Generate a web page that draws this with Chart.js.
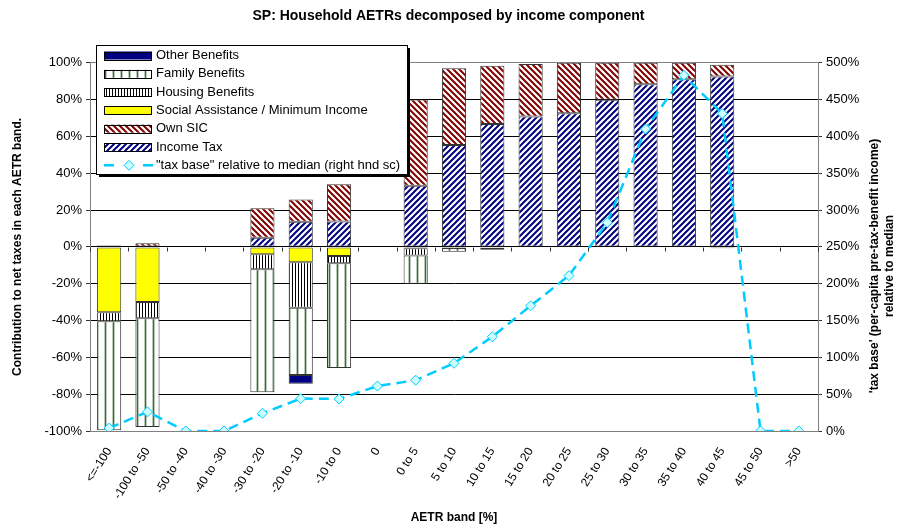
<!DOCTYPE html>
<html>
<head>
<meta charset="utf-8">
<script src="https://cdn.jsdelivr.net/npm/chart.js@4.4.1/dist/chart.umd.min.js"></script>
<style>
  body { margin: 0; background: #fff; }
</style>
</head>
<body>
<canvas id="chart" width="897" height="531"></canvas>
<script>
const categories = ['<=-100', '-100 to -50', '-50 to -40', '-40 to -30', '-30 to -20', '-20 to -10', '-10 to 0', '0',
    '0 to 5', '5 to 10', '10 to 15', '15 to 20', '20 to 25', '25 to 30', '30 to 35', '35 to 40', '40 to 45', '45 to 50', '>50'];

// contributions, % of net taxes in each band
const incomeTax = [null, null, null, null, 5, 13.6, 13.8, null, 33.2, 55.4, 66.8, 70.8, 72.6, 79.9, 88.4, 91.1, 92.6, null, null];
const ownSIC = [0.7, 2, null, null, 16, 12.1, 20.2, null, 46.8, 41.7, 31.6, 28.5, 27.4, 20.1, 11.6, 8.9, 6.3, null, null];
const socialAssistance = [-35.5, -29.9, null, null, -4, -8.3, -5, null, -0.7, null, null, null, null, null, null, null, null, null, null];
const housingBenefits = [-4.9, -8.9, null, null, -8.1, -24.7, -3.9, null, -4, -0.6, -0.4, null, null, null, null, null, null, null, null];
const familyBenefits = [-59.2, -59, null, null, -66.9, -36.6, -56.9, null, -15.3, -2, -1.2, null, null, null, null, null, -0.7, null, null];
const otherBenefits = [null, null, null, null, null, -4.7, null, null, null, null, null, null, null, null, null, null, null, null, null];

// "tax base" relative to median, % (right axis)
const taxBase = [4, 26, 0, 0, 24, 44, 43.5, 61, 69, 92, 128, 170, 211, 283, 410, 483, 431, 0, 0];

const leftTicks = [-100, -80, -60, -40, -20, 0, 20, 40, 60, 80, 100];
const rightTicks = [0, 50, 100, 150, 200, 250, 300, 350, 400, 450, 500];

const FONT = 'Arial, "Liberation Sans", sans-serif';

function diagonal(color, backslash) {
    const s = 6;
    const c = document.createElement('canvas');
    c.width = s; c.height = s;
    const g = c.getContext('2d');
    g.fillStyle = '#fff';
    g.fillRect(0, 0, s, s);
    g.strokeStyle = color;
    g.lineWidth = 2;
    g.beginPath();
    if (backslash) {
        g.moveTo(0, 0); g.lineTo(s, s);
        g.moveTo(-s / 2, s / 2); g.lineTo(s / 2, s * 1.5);
        g.moveTo(s / 2, -s / 2); g.lineTo(s * 1.5, s / 2);
    } else {
        g.moveTo(0, s); g.lineTo(s, 0);
        g.moveTo(-s / 2, s / 2); g.lineTo(s / 2, -s / 2);
        g.moveTo(s / 2, s * 1.5); g.lineTo(s * 1.5, s / 2);
    }
    g.stroke();
    return g.createPattern(c, 'repeat');
}

function vertical(w, lineColor, soft) {
    const c = document.createElement('canvas');
    c.width = w; c.height = 4;
    const g = c.getContext('2d');
    g.fillStyle = '#fff';
    g.fillRect(0, 0, w, 4);
    if (soft) {
        g.fillStyle = soft;
        g.fillRect(0, 0, 1, 4);
        g.fillRect(2, 0, 1, 4);
    }
    g.fillStyle = lineColor;
    g.fillRect(1, 0, 1, 4);
    return g.createPattern(c, 'repeat');
}

const ctx = document.getElementById('chart').getContext('2d');

const taxFill = diagonal('#000080', false);
const sicFill = diagonal('#800000', true);
const housingFill = vertical(3, '#000000', null);
const familyFill = vertical(8, '#3d6b3d', '#b9cab9');

const barCommon = {
    type: 'bar',
    yAxisID: 'y',
    borderColor: '#333333',
    borderWidth: 1,
    borderSkipped: false,
    stack: 's',
    order: 1,
    categoryPercentage: 1,
    barPercentage: 0.63
};

// legend drawn inside the plot like the original
const boxLegend = {
    id: 'boxLegend',
    afterDraw(chart) {
        const c = chart.ctx;
        const x = 96, y = 45, w = 311, h = 129;
        c.save();
        c.fillStyle = '#000';
        c.fillRect(x + 3, y + 3, w, h);
        c.fillStyle = '#fff';
        c.fillRect(x, y, w, h);
        c.strokeStyle = '#000';
        c.lineWidth = 1;
        c.strokeRect(x + 0.5, y + 0.5, w, h);
        const items = [
            ['Other Benefits', '#000080'],
            ['Family Benefits', familyFill],
            ['Housing Benefits', housingFill],
            ['Social Assistance / Minimum Income', '#ffff00'],
            ['Own SIC', sicFill],
            ['Income Tax', taxFill]
        ];
        c.font = '13px ' + FONT;
        c.textBaseline = 'middle';
        items.forEach((it, i) => {
            const cy = 55.5 + i * 18.3;
            c.fillStyle = it[1];
            c.fillRect(104, cy - 4, 48, 8);
            c.strokeStyle = '#000';
            c.strokeRect(104.5, Math.round(cy - 4) + 0.5, 47, 8);
            c.fillStyle = '#000';
            c.fillText(it[0], 156, cy);
        });
        const ly = 55.5 + 6 * 18.3;
        c.strokeStyle = '#00ccff';
        c.lineWidth = 2.5;
        c.beginPath();
        c.moveTo(104, ly); c.lineTo(114, ly);
        c.moveTo(143, ly); c.lineTo(153, ly);
        c.stroke();
        c.beginPath();
        c.moveTo(129, ly - 5); c.lineTo(134, ly); c.lineTo(129, ly + 5); c.lineTo(124, ly); c.closePath();
        c.fillStyle = '#ccffff';
        c.fill();
        c.lineWidth = 1;
        c.stroke();
        c.fillStyle = '#000';
        c.fillText('"tax base" relative to median (right hnd sc)', 156, ly);
        c.restore();
    }
};

// small category ticks on the zero line, and the right axis title (reads upward)
const extras = {
    id: 'extras',
    beforeDatasetsDraw(chart) {
        const c = chart.ctx;
        const xs = chart.scales.x, ys = chart.scales.y;
        const y0 = Math.round(ys.getPixelForValue(0)) + 0.5;
        const step = (xs.right - xs.left) / categories.length;
        c.save();
        c.strokeStyle = '#333';
        c.lineWidth = 1;
        c.beginPath();
        for (let i = 0; i <= categories.length; i++) {
            const px = Math.round(xs.left + i * step) + 0.5;
            c.moveTo(px, y0);
            c.lineTo(px, y0 + 4);
        }
        c.stroke();
        c.restore();
    },
    afterDraw(chart) {
        const c = chart.ctx;
        c.save();
        c.font = 'bold 12px ' + FONT;
        c.fillStyle = '#000';
        c.textAlign = 'center';
        c.textBaseline = 'middle';
        c.translate(875, 266);
        c.rotate(-Math.PI / 2);
        c.fillText("'tax base' (per-capita pre-tax-benefit income)", 0, 0);
        c.fillText('relative to median', 0, 14.5);
        c.restore();
    }
};

new Chart(ctx, {
    data: {
        labels: categories,
        datasets: [
            { ...barCommon, label: 'Income Tax', data: incomeTax, backgroundColor: taxFill },
            { ...barCommon, label: 'Own SIC', data: ownSIC, backgroundColor: sicFill },
            { ...barCommon, label: 'Social Assistance / Minimum Income', data: socialAssistance, backgroundColor: '#ffff00' },
            { ...barCommon, label: 'Housing Benefits', data: housingBenefits, backgroundColor: housingFill },
            { ...barCommon, label: 'Family Benefits', data: familyBenefits, backgroundColor: familyFill },
            { ...barCommon, label: 'Other Benefits', data: otherBenefits, backgroundColor: '#000080' },
            {
                type: 'line',
                label: '"tax base" relative to median (right hnd sc)',
                data: taxBase,
                yAxisID: 'y1',
                order: 0,
                borderColor: '#00ccff',
                borderWidth: 2.5,
                borderDash: [10, 6],
                tension: 0,
                fill: false,
                pointStyle: 'rectRot',
                pointRadius: 5,
                pointBackgroundColor: '#ccffff',
                pointBorderColor: '#00ccff',
                pointBorderWidth: 1
            }
        ]
    },
    options: {
        responsive: false,
        animation: false,
        layout: { padding: 0 },
        plugins: {
            legend: { display: false },
            tooltip: { enabled: false },
            title: {
                display: true,
                text: 'SP: Household AETRs decomposed by income component',
                color: '#000',
                font: { family: FONT, size: 14, weight: 'bold' },
                padding: { top: 8, bottom: 38 }
            }
        },
        scales: {
            x: {
                stacked: true,
                afterFit(scale) { scale.height = 100; },
                grid: { display: false },
                border: { display: true, color: '#808080' },
                ticks: {
                    color: '#000',
                    font: { family: FONT, size: 12 },
                    maxRotation: 58,
                    minRotation: 58,
                    autoSkip: false,
                    padding: 6
                },
                title: {
                    display: true,
                    text: 'AETR band [%]',
                    color: '#000',
                    font: { family: FONT, size: 12, weight: 'bold' },
                    padding: { top: 0, bottom: 6 }
                }
            },
            y: {
                position: 'left',
                stacked: true,
                min: -100,
                max: 100,
                afterFit(scale) { scale.width = 90; },
                afterBuildTicks(scale) { scale.ticks = leftTicks.map(v => ({ value: v })); },
                grid: {
                    color: c => (c.tick && (c.tick.value === 100 || c.tick.value === -100)) ? '#808080' : '#000000',
                    tickColor: '#333',
                    tickLength: 4
                },
                border: { display: true, color: '#808080' },
                ticks: {
                    color: '#000',
                    font: { family: FONT, size: 13 },
                    padding: 4,
                    callback: v => v + '%'
                },
                title: {
                    display: true,
                    text: 'Contribution to net taxes in each AETR band.',
                    color: '#000',
                    font: { family: FONT, size: 12, weight: 'bold' },
                    padding: { top: 10, bottom: 0 }
                }
            },
            y1: {
                position: 'right',
                min: 0,
                max: 500,
                afterFit(scale) { scale.width = 79; },
                afterBuildTicks(scale) { scale.ticks = rightTicks.map(v => ({ value: v })); },
                grid: { drawOnChartArea: false, tickColor: '#333', tickLength: 4 },
                border: { display: true, color: '#808080' },
                ticks: {
                    color: '#000',
                    font: { family: FONT, size: 13 },
                    padding: 4,
                    callback: v => v + '%'
                }
            }
        }
    },
    plugins: [extras, boxLegend]
});
</script>
</body>
</html>
